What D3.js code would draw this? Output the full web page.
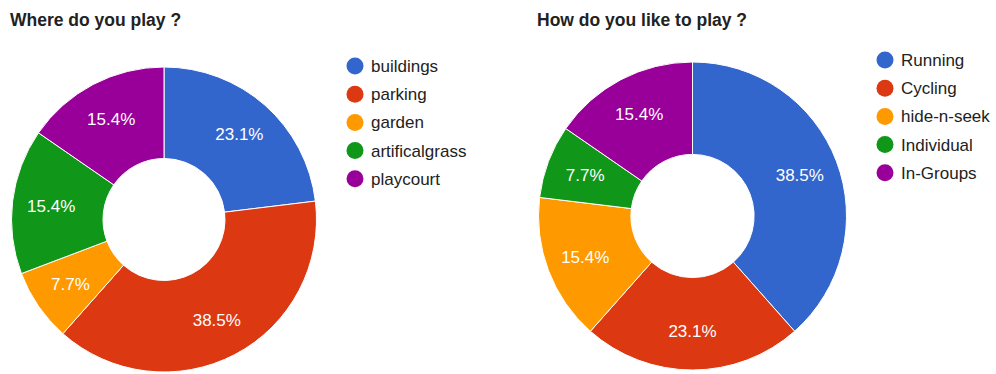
<!DOCTYPE html>
<html>
<head>
<meta charset="utf-8">
<script src="https://cdn.jsdelivr.net/npm/d3@7/dist/d3.min.js"></script>
<style>
  html, body { margin: 0; padding: 0; background: #fff; }
  svg { display: block; }
</style>
</head>
<body>
<svg id="chart" width="996" height="374"></svg>
<script>
// Survey answers (response counts, 13 respondents)
const colors = ["#3366cc", "#dc3912", "#ff9900", "#109618", "#990099"];

const placeTitle = "Where do you play ?";
const placeCategories = ["buildings", "parking", "garden", "artificalgrass", "playcourt"];
const placeValues = [3, 5, 1, 2, 2];

const styleTitle = "How do you like to play ?";
const styleCategories = ["Running", "Cycling", "hide-n-seek", "Individual", "In-Groups"];
const styleValues = [5, 3, 2, 1, 2];

const svg = d3.select("#chart");
const font = "'Liberation Sans', Arial, sans-serif";

function donut(opts) {
  const { title, categories, values, titleX, cx, cy, r, legendX, legendY } = opts;
  const g = svg.append("g");

  g.append("text")
    .attr("x", titleX).attr("y", 26)
    .attr("font-family", font).attr("font-size", 17.5).attr("font-weight", "bold")
    .attr("fill", "#222")
    .text(title);

  const data = categories.map((c, i) => ({ cat: c, value: values[i], i }));
  const total = d3.sum(values);
  const pie = d3.pie().sort(null).value(d => d.value);
  const arc = d3.arc().innerRadius(r * 0.4).outerRadius(r);
  const labelArc = d3.arc().innerRadius(r * 0.745).outerRadius(r * 0.745);
  const color = d3.scaleOrdinal().domain(categories).range(colors);

  const pg = g.append("g").attr("transform", `translate(${cx},${cy})`);
  const arcs = pie(data);

  pg.selectAll("path").data(arcs).join("path")
    .attr("d", arc)
    .attr("fill", d => color(d.data.cat))
    .attr("stroke", "#fff")
    .attr("stroke-width", 1);

  pg.selectAll("text").data(arcs).join("text")
    .attr("transform", d => `translate(${labelArc.centroid(d)})`)
    .attr("text-anchor", "middle")
    .attr("dy", "0.35em")
    .attr("font-family", font).attr("font-size", 17)
    .attr("fill", "#fff")
    .text(d => (d.data.value / total * 100).toFixed(1) + "%");

  const lg = g.append("g").attr("transform", `translate(${legendX},${legendY})`);
  const rows = lg.selectAll("g").data(categories).join("g")
    .attr("transform", (d, i) => `translate(0,${i * 28.2})`);
  rows.append("circle").attr("r", 8.5).attr("fill", d => color(d));
  rows.append("text")
    .attr("x", 16).attr("dy", "0.35em")
    .attr("font-family", font).attr("font-size", 17)
    .attr("fill", "#222")
    .text(d => d);
}

donut({ title: placeTitle, categories: placeCategories, values: placeValues,
        titleX: 10, cx: 164, cy: 219.5, r: 152.5, legendX: 355, legendY: 66 });
donut({ title: styleTitle, categories: styleCategories, values: styleValues,
        titleX: 537, cx: 692.5, cy: 216, r: 154, legendX: 885, legendY: 60 });
</script>
</body>
</html>
